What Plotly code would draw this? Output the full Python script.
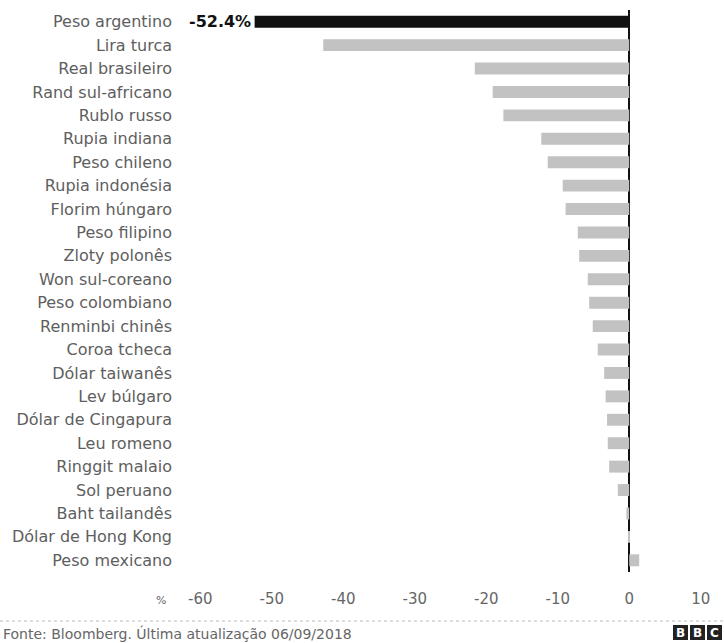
import plotly.graph_objects as go

currencies = [
    "Peso argentino", "Lira turca", "Real brasileiro", "Rand sul-africano",
    "Rublo russo", "Rupia indiana", "Peso chileno", "Rupia indonésia",
    "Florim húngaro", "Peso filipino", "Zloty polonês", "Won sul-coreano",
    "Peso colombiano", "Renminbi chinês", "Coroa tcheca", "Dólar taiwanês",
    "Lev búlgaro", "Dólar de Cingapura", "Leu romeno", "Ringgit malaio",
    "Sol peruano", "Baht tailandês", "Dólar de Hong Kong", "Peso mexicano",
]
changes = [
    -52.4, -42.8, -21.6, -19.1,
    -17.6, -12.3, -11.4, -9.3,
    -8.9, -7.2, -7.0, -5.8,
    -5.6, -5.1, -4.4, -3.5,
    -3.3, -3.1, -3.0, -2.8,
    -1.6, -0.4, -0.1, 1.4,
]
highlight = "Peso argentino"
x_ticks = [-60, -50, -40, -30, -20, -10, 0, 10]
x_tick_labels = ["-60", "-50", "-40", "-30", "-20", "-10", "0", "10"]
source_text = "Fonte: Bloomberg. Última atualização 06/09/2018"

W, H = 724, 643
ML, MR, MT, MB = 186, 9, 10, 71
PW = W - ML - MR
PH = H - MT - MB

def px_x(p):
    return (p - ML) / PW

def px_y(p):
    return 1 - (p - MT) / PH

colors = ["#111111" if c == highlight else "#c2c2c2" for c in currencies]

fig = go.Figure(go.Bar(
    x=changes, y=currencies, orientation="h",
    marker=dict(color=colors, line=dict(width=0)),
    hoverinfo="x+y",
))

font_family = "DejaVu Sans, Verdana, sans-serif"

fig.update_layout(
    width=W, height=H,
    margin=dict(l=ML, r=MR, t=MT, b=MB),
    paper_bgcolor="white", plot_bgcolor="white",
    showlegend=False,
    bargap=0.49,
    font=dict(family=font_family, color="#555555", size=14),
    xaxis=dict(
        range=[-62, 12], tickvals=x_ticks, ticktext=x_tick_labels,
        showgrid=False, zeroline=True, zerolinecolor="#111111", zerolinewidth=2,
        showline=False, ticks="", ticklabelstandoff=16,
        tickfont=dict(size=15, color="#666666"),
        fixedrange=True,
    ),
    yaxis=dict(
        categoryorder="array", categoryarray=currencies, autorange="reversed",
        showgrid=False, zeroline=False, showline=False, ticks="",
        ticklabelstandoff=13,
        tickfont=dict(size=16, color="#5e5e5e"),
        fixedrange=True,
    ),
)

# value label for the highlighted bar
hi = currencies.index(highlight)
fig.add_annotation(
    x=changes[hi], y=currencies[hi], xref="x", yref="y",
    text="<b>%s%%</b>" % str(changes[hi]),
    showarrow=False, xanchor="right", xshift=-2,
    font=dict(size=16, color="#111111", family=font_family),
)

# percent unit label next to the x ticks
fig.add_annotation(
    x=px_x(161), y=px_y(600), xref="paper", yref="paper",
    text="%", showarrow=False, xanchor="center", yanchor="middle",
    font=dict(size=11, color="#666666", family=font_family),
)

# footer separator line (dotted)
fig.add_shape(
    type="line", xref="paper", yref="paper",
    x0=px_x(0), x1=px_x(W), y0=px_y(621), y1=px_y(621),
    line=dict(color="#bbbbbb", width=1, dash="dot"),
)

# source text
fig.add_annotation(
    x=px_x(1), y=px_y(633), xref="paper", yref="paper",
    text=source_text, showarrow=False, xanchor="left", yanchor="middle",
    font=dict(size=14, color="#666666", family=font_family),
)

# BBC logo blocks
for i, letter in enumerate(["B", "B", "C"]):
    x0 = 673 + i * 17
    fig.add_shape(
        type="rect", xref="paper", yref="paper",
        x0=px_x(x0), x1=px_x(x0 + 15), y0=px_y(640), y1=px_y(625),
        fillcolor="#222222", line=dict(width=0),
    )
    fig.add_annotation(
        x=px_x(x0 + 7.5), y=px_y(632.5), xref="paper", yref="paper",
        text="<b>%s</b>" % letter, showarrow=False,
        xanchor="center", yanchor="middle",
        font=dict(size=12, color="white", family=font_family),
    )

fig.write_html(
    "out.html",
    config={"displayModeBar": False},
    post_script="document.body.style.margin='0';document.body.style.overflow='hidden';",
)
